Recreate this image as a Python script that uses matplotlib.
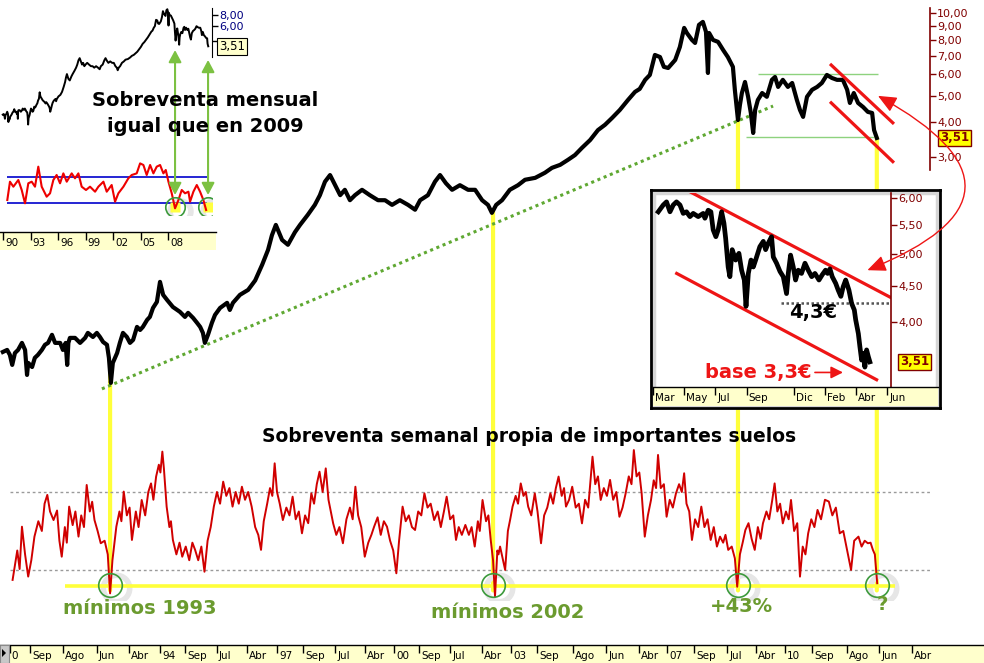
import numpy as np
import matplotlib
matplotlib.use("Agg")
import matplotlib.pyplot as plt
import matplotlib.transforms as mtransforms
from matplotlib.patches import ConnectionPatch, Rectangle, Polygon
from matplotlib.ticker import FixedLocator, NullLocator

# ---------------- data ----------------
price_years = [1989.97,1990.08,1990.15,1990.21,1990.28,1990.36,1990.46,1990.54,1990.59,1990.62,1990.72,1990.79,1990.87,1990.97,
    1991.05,1991.13,1991.23,1991.31,1991.44,1991.51,1991.58,1991.62,1991.65,1991.69,1991.82,1991.95,1992.08,1992.15,1992.28,
    1992.38,1992.46,1992.54,1992.64,1992.69,1992.74,1992.79,1992.90,1992.97,1993.05,1993.15,1993.23,1993.31,1993.41,1993.49,
    1993.56,1993.67,1993.74,1993.82,1993.92,1994.00,1994.08,1994.18,1994.33,1994.51,1994.64,1994.72,1994.85,1994.95,1995.03,
    1995.10,1995.15,1995.23,1995.33,1995.41,1995.54,1995.72,1995.79,1995.87,1996.05,1996.26,1996.44,1996.62,1996.77,1996.87,
    1996.97,1997.13,1997.28,1997.46,1997.59,1997.79,1997.97,1998.10,1998.23,1998.36,1998.49,1998.62,1998.74,1998.87,1999.00,
    1999.18,1999.38,1999.59,1999.77,1999.95,2000.15,2000.36,2000.54,2000.67,2000.87,2001.05,2001.18,2001.33,2001.49,2001.69,
    2001.90,2002.08,2002.26,2002.41,2002.51,2002.62,2002.77,2002.97,2003.18,2003.36,2003.62,2003.87,2004.05,2004.26,2004.46,
    2004.64,2004.82,2005.03,2005.23,2005.41,2005.59,2005.79,2006.00,2006.18,2006.30,2006.44,2006.56,2006.69,2006.82,2006.92,
    2007.03,2007.21,2007.33,2007.44,2007.51,2007.64,2007.72,2007.82,2007.92,2008.00,2008.05,2008.08,2008.18,2008.31,2008.44,
    2008.56,2008.69,2008.74,2008.82,2008.87,2008.92,2009.00,2009.08,2009.15,2009.21,2009.26,2009.33,2009.44,2009.56,2009.69,
    2009.77,2009.85,2009.97,2010.10,2010.21,2010.33,2010.41,2010.49,2010.59,2010.72,2010.85,2010.97,2011.10,2011.23,2011.36,
    2011.51,2011.62,2011.69,2011.79,2011.90,2012.03,2012.15,2012.26,2012.31,2012.38]
prices = [0.581,0.591,0.567,0.521,0.576,0.591,0.627,0.591,0.479,0.530,0.512,0.553,0.567,0.591,
    0.617,0.627,0.671,0.627,0.627,0.591,0.627,0.521,0.627,0.654,0.654,0.627,0.654,0.682,0.659,
    0.682,0.659,0.632,0.617,0.553,0.448,0.530,0.576,0.627,0.682,0.659,0.627,0.643,0.717,0.699,
    0.717,0.761,0.780,0.841,0.885,1.047,0.939,0.900,0.848,0.814,0.780,0.807,0.773,0.742,0.717,
    0.682,0.627,0.671,0.742,0.793,0.841,0.878,0.827,0.878,0.939,0.979,1.06,1.21,1.37,1.55,
    1.69,1.49,1.43,1.59,1.69,1.84,2.00,2.17,2.43,2.57,2.36,2.17,2.27,2.08,2.17,
    2.27,2.17,2.08,2.08,2.00,2.08,2.00,1.92,2.08,2.17,2.43,2.57,2.40,2.27,2.36,
    2.27,2.27,2.08,2.00,1.87,2.00,2.08,2.27,2.36,2.47,2.51,2.62,2.73,2.80,2.92,
    3.04,3.23,3.45,3.75,3.92,4.15,4.44,4.83,5.17,5.30,5.72,5.96,7.05,6.93,6.38,
    6.32,6.76,7.54,8.85,8.48,8.00,7.80,9.08,9.31,8.56,6.06,8.48,8.00,7.87,7.35,
    6.93,6.38,5.26,4.08,4.63,5.12,5.62,4.96,4.33,3.66,4.44,4.83,5.12,4.96,5.72,
    5.86,5.39,5.72,5.39,5.57,4.83,4.44,4.19,4.96,5.26,5.39,5.57,5.96,5.81,5.72,
    5.72,5.26,4.71,5.12,4.71,4.55,4.37,4.33,3.75,3.51]

# weekly oscillator: main swings
osc_years = [1990.22,1990.46,1990.62,1990.78,1991.11,1991.27,1991.48,1991.67,1991.91,1992.12,1992.32,1992.48,1992.72,
    1992.88,1993.07,1993.28,1993.53,1993.77,1993.90,1994.06,1994.17,1994.33,1994.57,1994.90,1995.14,1995.38,1995.62,
    1995.86,1996.10,1996.35,1996.59,1996.75,1996.94,1997.15,1997.40,1997.64,1997.88,1998.09,1998.25,1998.44,1998.69,
    1999.01,1999.25,1999.49,1999.82,2000.06,2000.22,2000.54,2000.78,2001.03,2001.35,2001.59,2001.83,2002.07,2002.27,
    2002.48,2002.59,2002.72,2002.85,2003.04,2003.25,2003.44,2003.61,2003.77,2004.01,2004.22,2004.41,2004.57,2004.82,
    2005.09,2005.30,2005.54,2005.78,2005.94,2006.15,2006.35,2006.43,2006.59,2006.77,2006.99,2007.23,2007.44,2007.64,
    2007.88,2008.12,2008.36,2008.57,2008.80,2009.01,2009.25,2009.46,2009.76,2009.97,2010.18,2010.41,2010.62,2010.86,
    2011.15,2011.43,2011.72,2011.91,2012.15,2012.28,2012.39]
osc_vals = [24.9,52.2,26.6,47.1,68.5,55.6,36.8,62.5,47.1,73.6,55.6,43.7,18.0,
    52.2,70.2,45.4,65.9,74.4,77.9,90.7,62.5,45.4,36.8,40.3,29.1,62.5,75.3,
    62.5,72.7,62.5,40.3,64.2,84.7,55.6,67.6,48.8,69.3,80.4,82.1,53.9,43.7,
    72.7,36.8,52.2,52.2,28.3,62.5,50.5,69.3,55.6,67.6,45.4,53.1,42.0,65.9,
    45.4,16.3,42.0,30.0,62.5,74.4,62.5,69.3,43.7,69.3,77.9,62.5,72.7,53.9,
    88.1,65.9,76.2,57.3,69.3,91.5,69.3,47.1,65.9,89.0,57.3,69.3,79.6,45.4,
    62.5,45.4,47.1,40.3,21.4,50.5,40.3,53.9,74.4,53.9,65.9,26.6,48.8,60.8,
    65.1,48.8,30.0,47.1,43.7,40.3,23.2]
# weekly oscillator: intermediate wiggles between the swings
osc_detail_years = [1990.34,1990.40,1990.54,1990.70,1990.88,1990.97,1991.04,1991.18,1991.36,1991.42,1991.56,1991.61,
    1991.76,1991.83,1991.98,1992.05,1992.20,1992.26,1992.40,1992.58,1992.66,1992.78,1992.96,1993.01,1993.15,1993.22,
    1993.38,1993.45,1993.62,1993.70,1993.83,1993.97,1994.01,1994.10,1994.24,1994.28,1994.42,1994.50,1994.66,1994.75,
    1994.83,1994.98,1995.06,1995.22,1995.30,1995.46,1995.54,1995.70,1995.78,1995.94,1996.02,1996.18,1996.26,1996.44,
    1996.52,1996.66,1996.82,1996.88,1997.00,1997.07,1997.24,1997.32,1997.48,1997.56,1997.72,1997.80,1997.95,1998.02,
    1998.17,1998.32,1998.38,1998.52,1998.60,1998.78,1998.87,1998.94,1999.08,1999.16,1999.34,1999.42,1999.58,1999.66,
    1999.74,1999.90,1999.98,2000.13,2000.30,2000.38,2000.46,2000.62,2000.70,2000.86,2000.94,2001.12,2001.20,2001.28,
    2001.44,2001.52,2001.66,2001.74,2001.92,2001.99,2002.15,2002.20,2002.36,2002.42,2002.54,2002.65,2002.68,2002.92,
    2002.98,2003.12,2003.18,2003.32,2003.38,2003.52,2003.68,2003.85,2003.93,2004.08,2004.15,2004.30,2004.36,2004.49,
    2004.66,2004.74,2004.90,2004.98,2005.04,2005.16,2005.23,2005.38,2005.46,2005.62,2005.70,2005.86,2006.02,2006.09,
    2006.22,2006.29,2006.51,2006.66,2006.72,2006.84,2006.92,2007.07,2007.15,2007.31,2007.38,2007.50,2007.57,2007.72,
    2007.80,2007.96,2008.04,2008.20,2008.28,2008.44,2008.50,2008.66,2008.74,2008.87,2008.94,2009.09,2009.17,2009.33,
    2009.40,2009.55,2009.62,2009.70,2009.83,2009.90,2010.05,2010.12,2010.26,2010.34,2010.48,2010.55,2010.70,2010.78,
    2010.95,2011.05,2011.24,2011.33,2011.52,2011.62,2011.80,2011.99,2012.07,2012.22,2012.33]
osc_detail_vals = [40.0,30.5,38.0,35.0,55.0,50.0,64.0,60.0,60.5,45.0,52.0,44.0,
    53.0,60.0,58.0,52.0,60.0,65.0,50.0,45.0,38.0,35.0,60.0,55.0,58.0,62.0,
    60.0,52.0,58.0,70.0,66.0,84.0,80.0,82.0,52.0,55.0,38.0,44.0,42.0,35.0,
    44.0,35.0,42.0,45.0,52.0,70.0,64.0,68.0,72.0,70.0,64.0,66.0,70.0,52.0,
    48.0,55.0,72.0,68.0,70.0,64.0,62.0,58.0,56.0,60.0,58.0,54.0,64.0,74.0,
    70.0,66.0,60.0,48.0,52.0,56.0,62.0,56.0,58.0,52.0,44.0,48.0,57.0,48.0,
    55.0,45.0,40.0,45.0,55.0,58.0,52.0,60.0,58.0,62.0,64.0,60.0,52.0,60.0,
    56.0,58.0,52.0,48.0,48.0,52.0,55.0,50.0,55.0,58.0,35.0,40.0,38.0,50.0,
    56.0,68.0,64.0,68.0,70.0,58.0,60.0,58.0,62.0,64.0,72.0,68.0,72.0,66.0,
    62.0,64.0,66.0,62.0,76.0,74.0,78.0,72.0,68.0,66.0,70.0,62.0,78.0,74.0,
    78.0,80.0,58.0,76.0,72.0,72.0,74.0,66.0,62.0,74.0,70.0,64.0,60.0,56.0,
    52.0,52.0,56.0,52.0,42.0,44.0,48.0,42.0,36.0,38.0,44.0,54.0,46.0,52.0,
    46.0,60.0,56.0,66.0,60.0,64.0,60.0,56.0,50.0,54.0,42.0,38.0,56.0,52.0,
    56.0,66.0,58.0,62.0,50.0,40.0,45.0,42.0,45.0,44.0,38.0]
osc_levels = [70, 30]
osc_base = 21.8

tl_osc_years = [1990.47,1990.76,1991.13,1991.67,1992.04,1992.40,1992.76,1993.13,1993.49,1993.85,1994.22,1994.76,1995.13,
    1995.49,1995.85,1996.22,1996.58,1996.95,1997.49,1997.85,1998.22,1998.58,1999.05,1999.49,2000.04,2000.40,2000.95,
    2001.31,2001.85,2002.22,2002.58,2003.13,2003.67,2004.04,2004.58,2004.95,2005.31,2005.67,2006.04,2006.40,2006.76,
    2007.13,2007.49,2007.75,2008.04,2008.40,2008.76,2009.13,2009.49,2009.85,2010.22,2010.40,2010.76,2011.13,2011.49,
    2011.85,2012.15]
tl_osc_vals = [34.6,62.8,55.1,65.4,50.0,29.5,60.3,62.8,55.1,85.9,55.1,39.7,44.9,
    65.4,73.1,60.3,75.6,62.8,75.6,68.0,75.6,55.1,50.0,55.1,47.4,55.1,62.8,
    47.4,57.7,32.0,44.9,55.1,68.0,73.1,75.6,91.0,88.5,73.1,88.5,75.6,85.9,
    88.5,75.6,80.8,62.8,44.9,21.8,34.6,50.0,44.9,47.4,32.0,47.4,57.7,47.4,
    34.6,19.2]

inset_years = [2011.231,2011.257,2011.274,2011.292,2011.309,2011.326,2011.344,2011.361,2011.378,2011.396,2011.413,
    2011.439,2011.465,2011.474,2011.491,2011.505,2011.517,2011.531,2011.543,2011.561,2011.573,2011.582,2011.595,
    2011.604,2011.616,2011.634,2011.651,2011.665,2011.679,2011.688,2011.700,2011.714,2011.726,2011.738,2011.760,
    2011.778,2011.790,2011.804,2011.821,2011.830,2011.847,2011.865,2011.882,2011.899,2011.908,2011.920,2011.934,
    2011.946,2011.960,2011.977,2011.995,2012.012,2012.030,2012.047,2012.068,2012.085,2012.102,2012.113,2012.125,
    2012.137,2012.155,2012.168,2012.182,2012.194,2012.207,2012.224,2012.238,2012.252,2012.259,2012.273,2012.281,
    2012.290,2012.299,2012.307,2012.316,2012.325,2012.333]
inset_prices = [5.74,5.87,5.93,5.74,5.87,5.93,5.87,5.71,5.74,5.65,5.71,
    5.65,5.71,5.62,5.77,5.74,5.41,5.29,5.41,5.74,5.53,5.26,4.79,
    4.64,5.07,4.90,5.01,4.74,4.59,4.21,4.69,4.90,4.79,4.90,5.12,
    5.21,5.07,5.18,5.29,4.95,4.85,4.72,4.64,4.39,4.69,4.98,4.79,
    4.59,4.74,4.69,4.85,4.74,4.64,4.69,4.59,4.67,4.74,4.69,4.76,
    4.64,4.54,4.44,4.35,4.49,4.59,4.44,4.25,4.16,4.03,3.85,3.69,
    3.53,3.61,3.45,3.65,3.57,3.51]

low_dates = [1992.72, 2002.54, 2008.82, 2012.38]
main_ticks = [3, 4, 5, 6, 7, 8, 9, 10]
tl_ticks = [4, 6, 8]
inset_ticks = [4.0, 4.5, 5.0, 5.5, 6.0]

main_date_ticks = [1990.15,1990.67,1991.51,1992.38,1993.21,1994.00,1994.64,1995.46,1996.23,1997.00,1997.67,1998.49,
    1999.26,2000.00,2000.64,2001.44,2002.26,2003.00,2003.67,2004.59,2005.44,2006.28,2007.00,2007.69,2008.54,
    2009.28,2010.03,2010.72,2011.62,2012.44,2013.28]
main_date_labels = ["0","Sep","Ago","Jun","Abr","94","Sep","Jul","Abr","97","Sep","Jul","Abr","00","Sep","Jul",
    "Abr","03","Sep","Ago","Jun","Abr","07","Sep","Jul","Abr","10","Sep","Ago","Jun","Abr"]
tl_date_ticks = [1990, 1993, 1996, 1999, 2002, 2005, 2008]
tl_date_labels = ["90", "93", "96", "99", "02", "05", "08"]
inset_date_ticks = [2011.167, 2011.333, 2011.5, 2011.667, 2011.917, 2012.083, 2012.25, 2012.417]
inset_date_labels = ["Mar", "May", "Jul", "Sep", "Dic", "Feb", "Abr", "Jun"]

# analyst drawings
dotted_trend = [(1992.51, 0.426), (2009.72, 4.59)]
range_top = (2009.33, 2012.41, 6.0)
range_bot = (2009.03, 2012.31, 3.55)
main_chan_up = [(2011.18, 6.54), (2012.82, 3.95)]
main_chan_lo = [(2011.18, 4.76), (2012.82, 2.85)]
inset_chan_up = [(2011.396, 6.13), (2012.4375, 4.34)]
inset_chan_lo = [(2011.327, 4.69), (2012.368, 3.31)]
resistance = (2011.87, 2012.43, 4.25)

# ---------------- style ----------------
DARKRED = '#800000'
NAVY = '#000080'
YEL = '#FFFF3A'
OLIVE = '#6B9B2F'
GCIRC = '#3C9A3C'
STRIP = '#FFFFCC'
RED = '#EE1515'

W, H = 984, 663
fig = plt.figure(figsize=(W / 100, H / 100), dpi=100)
fig.patch.set_facecolor('white')


def rect(x0, y0, x1, y1):
    return [x0 / W, 1 - y1 / H, (x1 - x0) / W, (y1 - y0) / H]


def fmt(v):
    return f"{v:.2f}".replace('.', ',')


def date_strip(r, xlim, ticks, labels, fs=7.5, z=2):
    a = fig.add_axes(r, zorder=z)
    a.set_xlim(xlim)
    a.set_ylim(0, 1)
    a.set_facecolor(STRIP)
    for s in ('left', 'right', 'bottom'):
        a.spines[s].set_visible(False)
    a.spines['top'].set_linewidth(1)
    a.set_yticks([])
    a.set_xticks(ticks)
    a.tick_params(axis='x', top=True, bottom=False, direction='in', length=6, width=1,
                  labelbottom=False, labeltop=False)
    for t, l in zip(ticks, labels):
        a.annotate(l, xy=(t, 0.40), xycoords=('data', 'axes fraction'), xytext=(2, 0),
                   textcoords='offset pixels', ha='left', va='center', fontsize=fs,
                   annotation_clip=False, clip_on=True)
    return a


MAIN_XLIM = (1989.897, 2013.744)

# ---------------- main price ----------------
ax = fig.add_axes(rect(0, 0, 930, 400), zorder=2)
ax.set_facecolor('none')
ax.set_yscale('log')
ax.set_xlim(MAIN_XLIM)
ax.set_ylim(0.388, 11.19)
for s in ('left', 'top', 'bottom'):
    ax.spines[s].set_visible(False)
ax.spines['right'].set_color(DARKRED)
ax.spines['right'].set_linewidth(1.2)
ax.spines['right'].set_bounds(2.68, 10.47)
ax.set_xticks([])
ax.yaxis.set_major_locator(FixedLocator(main_ticks))
ax.yaxis.set_minor_locator(NullLocator())
ax.set_yticklabels([fmt(v) for v in main_ticks])
ax.yaxis.set_ticks_position('right')
ax.tick_params(axis='y', direction='out', length=4, width=1, colors=DARKRED, labelsize=8, pad=1)

ax.plot(*zip(*dotted_trend), color='#5FA832', lw=2.2, ls=(0, (1, 1.2)), zorder=2)
ax.plot(price_years, prices, color='black', lw=3.0, zorder=3)
ax.hlines(range_top[2], range_top[0], range_top[1], color='#8ED27E', lw=1, zorder=2)
ax.hlines(range_bot[2], range_bot[0], range_bot[1], color='#8ED27E', lw=1, zorder=2)
ax.plot(*zip(*main_chan_up), color=RED, lw=2.3, zorder=4, solid_capstyle='butt')
ax.plot(*zip(*main_chan_lo), color=RED, lw=2.3, zorder=4, solid_capstyle='butt')
ax.annotate(fmt(prices[-1]), xy=(1, prices[-1]), xycoords=('axes fraction', 'data'),
            xytext=(10, 0), textcoords='offset pixels', ha='left', va='center',
            fontsize=8.5, fontweight='bold', color=DARKRED, annotation_clip=False,
            bbox=dict(boxstyle='square,pad=0.15', fc='#FFFF00', ec=DARKRED, lw=1))

# ---------------- main oscillator ----------------
axo = fig.add_axes(rect(0, 445, 930, 600), zorder=2)
axo.axis('off')
axo.set_xlim(MAIN_XLIM)
axo.set_ylim(14.6, 94.1)
for lvl in osc_levels:
    axo.axhline(lvl, xmin=10 / 930, color='#9A9A9A', lw=1, ls=(0, (2, 2)), zorder=1)
axo.hlines(osc_base, 1991.56, 2012.85, color=YEL, lw=2.6, zorder=1)
oy = np.array(osc_years + osc_detail_years)
ov = np.array(osc_vals + osc_detail_vals)
order = np.argsort(oy)
axo.plot(oy[order], ov[order], color='#D00000', lw=1.4, zorder=3)

low_prices = np.interp(low_dates, price_years, prices)
shadow = mtransforms.ScaledTranslation(6 / 100, -3 / 100, fig.dpi_scale_trans)
for d, p in zip(low_dates, low_prices):
    con = ConnectionPatch(xyA=(d, p), coordsA='data', axesA=ax, xyB=(d, 19.5), coordsB='data',
                          axesB=axo, color=YEL, lw=3, zorder=1)
    fig.add_artist(con)
    axo.plot([d], [22.5], 'o', ms=19, mfc='none', mec='#E6E6E6', mew=4, zorder=0.5,
             transform=axo.transData + shadow)
    axo.plot([d], [22.5], 'o', ms=17, mfc='none', mec=GCIRC, mew=1.2, zorder=4)

# main date strip
date_strip(rect(0, 645, 984, 663), (1989.897, 2015.128), main_date_ticks, main_date_labels)
fig.add_artist(Rectangle((0, 0), 9 / W, 18 / H, transform=fig.transFigure, fc='#C8C8C8', ec='#8A8A8A',
                         lw=0.8, zorder=6))
fig.add_artist(Polygon([[2 / W, 1 - 649 / H], [2 / W, 1 - 657 / H], [6 / W, 1 - 653 / H]],
                       closed=True, transform=fig.transFigure, fc='black', ec='none', zorder=7))

# ---------------- top-left inset ----------------
TL_XLIM = (1989.673, 2012.79)
axt = fig.add_axes(rect(0, 0, 212, 130), zorder=3)
axt.set_facecolor('none')
axt.set_yscale('log')
axt.set_xlim(TL_XLIM)
axt.set_ylim(0.388, 11.87)
for s in ('left', 'top', 'bottom'):
    axt.spines[s].set_visible(False)
axt.spines['right'].set_bounds(2.66, 9.62)
axt.set_xticks([])
axt.yaxis.set_major_locator(FixedLocator(tl_ticks))
axt.yaxis.set_minor_locator(NullLocator())
# the 4,00 label sits under the last-price box in the reference
axt.set_yticklabels(['' if v == 4 else fmt(v) for v in tl_ticks])
axt.yaxis.set_ticks_position('right')
axt.tick_params(axis='y', direction='out', length=4, width=1, color='black', labelcolor=NAVY,
                labelsize=8, pad=1)
axt.plot(price_years, prices, color='black', lw=1.4)
axt.annotate(fmt(prices[-1]), xy=(1, prices[-1]), xycoords=('axes fraction', 'data'),
             xytext=(7, 0), textcoords='offset pixels', ha='left', va='center',
             fontsize=8.5, color='black', annotation_clip=False, zorder=5,
             bbox=dict(boxstyle='square,pad=0.15', fc='#FFFFCC', ec='black', lw=0.8))

axto = fig.add_axes(rect(0, 160, 212, 215), zorder=3)
axto.axis('off')
axto.set_xlim(TL_XLIM)
axto.set_ylim(11.5, 96.2)
axto.hlines(osc_levels, 1990.44, 2012.25, color='#0000CC', lw=1.2, zorder=1)
tl_low_dates = [2008.76, 2012.36]
for d in tl_low_dates:
    axto.plot([d], [24.5], 's', ms=7, mfc='#FFFF40', mec='none', zorder=2)
axto.plot(tl_osc_years, tl_osc_vals, color='#EE0000', lw=1.5, zorder=3)
shadow2 = mtransforms.ScaledTranslation(5 / 100, -4 / 100, fig.dpi_scale_trans)
for d in tl_low_dates:
    axto.plot([d], [23.8], 'o', ms=15, mfc='none', mec='#E6E6E6', mew=4, zorder=0.5,
              transform=axto.transData + shadow2)
    axto.plot([d], [23.8], 'o', ms=14, mfc='none', mec=GCIRC, mew=1.2, zorder=4)

arrow_tops = [3.18, 2.45]
for d, top in zip(tl_low_dates, arrow_tops):
    con = ConnectionPatch(xyA=(d, top), coordsA='data', axesA=axt, xyB=(d, 42.3), coordsB='data',
                          axesB=axto, color='#7CC142', lw=1.5, zorder=4,
                          arrowstyle='<|-|>,head_length=0.6,head_width=0.32', mutation_scale=12)
    fig.add_artist(con)

date_strip(rect(0, 232, 216, 250), (1989.673, 2013.23), tl_date_ticks, tl_date_labels, z=3)

# ---------------- bottom-right inset ----------------
frame = fig.add_axes(rect(651, 190, 940, 408), zorder=5)
frame.set_facecolor('white')
frame.set_xticks([])
frame.set_yticks([])
for s in frame.spines.values():
    s.set_linewidth(2)
    s.set_color('black')
frame.add_patch(Rectangle((3 / 289, 3 / 218), 1 - 6 / 289, 1 - 6 / 218, transform=frame.transAxes,
                          fill=False, ec='#D6D6D6', lw=2.5))

axi = fig.add_axes(rect(655, 193, 891, 387), zorder=6)
axi.set_facecolor('none')
axi.set_yscale('log')
axi.set_xlim(2011.214, 2012.443)
axi.set_ylim(3.232, 6.105)
for s in ('left', 'top', 'bottom'):
    axi.spines[s].set_visible(False)
axi.spines['right'].set_color(DARKRED)
axi.spines['right'].set_linewidth(1.2)
axi.set_xticks([])
axi.yaxis.set_major_locator(FixedLocator(inset_ticks))
axi.yaxis.set_minor_locator(NullLocator())
axi.set_yticklabels([fmt(v) for v in inset_ticks])
axi.yaxis.set_ticks_position('right')
axi.tick_params(axis='y', direction='out', length=4, width=1, colors=DARKRED, labelsize=8, pad=1)

axi.plot(*zip(*inset_chan_up), color=RED, lw=2.3, zorder=2)
axi.plot(*zip(*inset_chan_lo), color=RED, lw=2.3, zorder=2)
axi.hlines(resistance[2], resistance[0], resistance[1], color='#555555', lw=1.8, ls=(0, (1, 1)), zorder=2)
axi.plot(inset_years, inset_prices, color='black', lw=3.4, zorder=3)
axi.text(2012.036, 4.12, "4,3€", fontsize=14, fontweight='bold', color='black', ha='center', va='center')
axi.annotate("", xy=(2012.193, 3.39), xytext=(2012.047, 3.39),
             arrowprops=dict(arrowstyle='-|>,head_length=0.6,head_width=0.3', color=RED, lw=1.2,
                             mutation_scale=12, shrinkA=0, shrinkB=0))
axi.text(2012.030, 3.39, "base 3,3€", fontsize=14, fontweight='bold', color=RED, ha='right', va='center')
axi.annotate(fmt(inset_prices[-1]), xy=(1, inset_prices[-1]), xycoords=('axes fraction', 'data'),
             xytext=(9, 0), textcoords='offset pixels', ha='left', va='center',
             fontsize=8.5, fontweight='bold', color=DARKRED, annotation_clip=False,
             bbox=dict(boxstyle='square,pad=0.15', fc='#FFFF00', ec=DARKRED, lw=1))

date_strip(rect(653, 387, 938, 406), (2011.203, 2012.6875), inset_date_ticks, inset_date_labels, z=6)

# curved double arrow linking main chart and inset
arc = ConnectionPatch(xyA=(2012.41, 5.00), coordsA='data', axesA=ax, xyB=(2012.32, 4.74),
                      coordsB='data', axesB=axi, color=RED, lw=1, zorder=10,
                      arrowstyle='<|-|>,head_length=0.8,head_width=0.35', mutation_scale=14,
                      connectionstyle='arc3,rad=-1.05')
fig.add_artist(arc)

# ---------------- texts ----------------
def ftext(x, y, s, **kw):
    fig.text(x / W, 1 - y / H, s, ha='center', va='center', fontweight='bold', **kw)

ftext(205, 100, "Sobreventa mensual", fontsize=14, color='black', zorder=8)
ftext(205, 126, "igual que en 2009", fontsize=14, color='black', zorder=8)
ftext(529, 437, "Sobreventa semanal propia de importantes suelos", fontsize=13.5, color='black', zorder=8)
ftext(140, 608, "mínimos 1993", fontsize=14, color=OLIVE, zorder=8)
ftext(508, 612, "mínimos 2002", fontsize=14, color=OLIVE, zorder=8)
ftext(741, 606, "+43%", fontsize=14, color=OLIVE, zorder=8)
ftext(882, 604, "?", fontsize=14, color=OLIVE, zorder=8)

fig.savefig('out.png', dpi=100)
